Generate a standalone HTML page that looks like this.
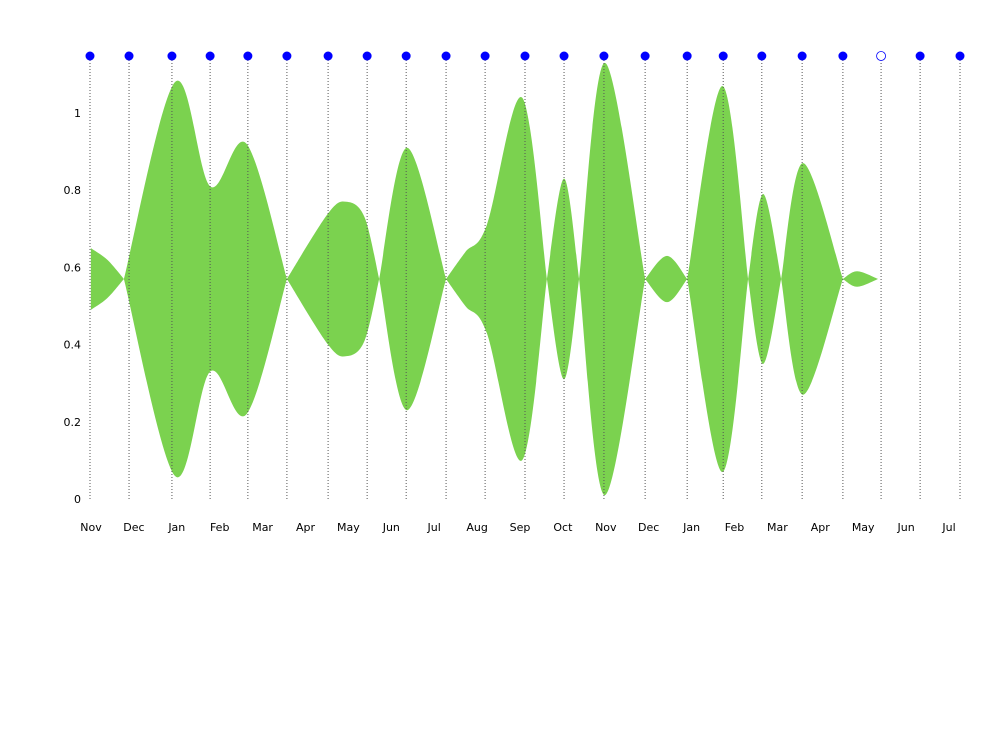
<!DOCTYPE html>
<html><head><meta charset="utf-8"><style>
body{margin:0;background:#fff;}
svg{display:block;font-family:"DejaVu Sans","Liberation Sans",sans-serif;font-size:11px;}
</style></head><body>
<svg id="chart" width="1000" height="744" viewBox="0 0 1000 744"></svg>
<script>
// ---- data ----
const monthLabels = ["Nov","Dec","Jan","Feb","Mar","Apr","May","Jun","Jul","Aug","Sep","Oct","Nov","Dec","Jan","Feb","Mar","Apr","May","Jun","Jul"];
const yTicks = [0,0.2,0.4,0.6,0.8,1];
const eventMonths = [0,0.91,1.91,2.80,3.68,4.59,5.55,6.46,7.37,8.30,9.21,10.14,11.05,11.98,12.94,13.92,14.76,15.66,16.6,17.55,18.44,19.35,20.28];
const eventHollow = [0,0,0,0,0,0,0,0,0,0,0,0,0,0,0,0,0,0,0,0,1,0,0];
const centerValue = 0.57;
const lobeIds =   [0,0,0,   1,1,1,1,1,   2,2,2,2,2,   3,3,3,   4,4,4,4,4,   5,5,5,   6,6,6,   7,7,7,   8,8,8,   9,9,9,   10,10,10,   11,11,11];
const lobeMonths =[0.02,0.4,0.79, 0.79,1.98,2.80,3.65,4.59, 4.59,5.55,5.98,6.40,6.74, 6.74,7.39,8.30, 8.30,8.75,9.25,10.07,10.65, 10.65,11.05,11.40, 11.40,12.0,12.94, 12.94,13.45,13.92, 13.92,14.74,15.34, 15.34,15.69,16.11, 16.11,16.62,17.55, 17.55,17.88,18.37];
const lobeHalfWidths=[0.08,0.05,0, 0,0.51,0.24,0.35,0, 0,0.17,0.2,0.16,0, 0,0.34,0, 0,0.07,0.14,0.47,0, 0,0.26,0, 0,0.56,0, 0,0.06,0, 0,0.5,0, 0,0.22,0, 0,0.3,0, 0,0.02,0];

const NS="http://www.w3.org/2000/svg";
const svg=document.getElementById('chart');
const xScale=m=>90+m*42.9;
const yScale=v=>499-v*386;
function mk(tag,attrs,parent){const e=document.createElementNS(NS,tag);for(const k in attrs)e.setAttribute(k,attrs[k]);(parent||svg).appendChild(e);return e;}

yTicks.forEach(v=>{
  const t=mk('text',{x:81,y:yScale(v)+4,'text-anchor':'end',fill:'#000'});
  t.textContent=String(v);
  
  
});
monthLabels.forEach((l,i)=>{
  const t=mk('text',{x:xScale(i)+1,y:531,'text-anchor':'middle',fill:'#000'});
  t.textContent=l;
  
  
});
function catmull(pts){
  let d=`M${pts[0][0]},${pts[0][1]}`;
  for(let i=0;i<pts.length-1;i++){
    const p0=pts[Math.max(0,i-1)],p1=pts[i],p2=pts[i+1],p3=pts[Math.min(pts.length-1,i+2)];
    const c1=[p1[0]+(p2[0]-p0[0])/6,p1[1]+(p2[1]-p0[1])/6];
    const c2=[p2[0]-(p3[0]-p1[0])/6,p2[1]-(p3[1]-p1[1])/6];
    d+=`C${c1[0]},${c1[1]} ${c2[0]},${c2[1]} ${p2[0]},${p2[1]}`;
  }
  return d;
}
const lobeSet=[...new Set(lobeIds)];
lobeSet.forEach(id=>{
  const idx=lobeIds.map((v,i)=>v===id?i:-1).filter(i=>i>=0);
  const top=idx.map(i=>[xScale(lobeMonths[i]),yScale(centerValue+lobeHalfWidths[i])]);
  const bot=idx.map(i=>[xScale(lobeMonths[i]),yScale(centerValue-lobeHalfWidths[i])]).reverse();
  let d=catmull(top);
  d+=catmull(bot).replace(/^M/,'L')+'Z';
  const p=mk('path',{d:d,fill:'#7bd24f'});
  
  
});
eventMonths.forEach((m,i)=>{
  const x=xScale(m);
  const ln=mk('line',{x1:x,x2:x,y1:60,y2:500,stroke:'#555','stroke-width':1,'stroke-dasharray':'1,2'});
  
  
  const c=mk('circle',{cx:x,cy:56,r:4.5,fill:eventHollow[i]?'#fff':'#0000ff',stroke:'#0000ff','stroke-width':eventHollow[i]?0.8:0});
  
  
});
</script>
</body></html>
